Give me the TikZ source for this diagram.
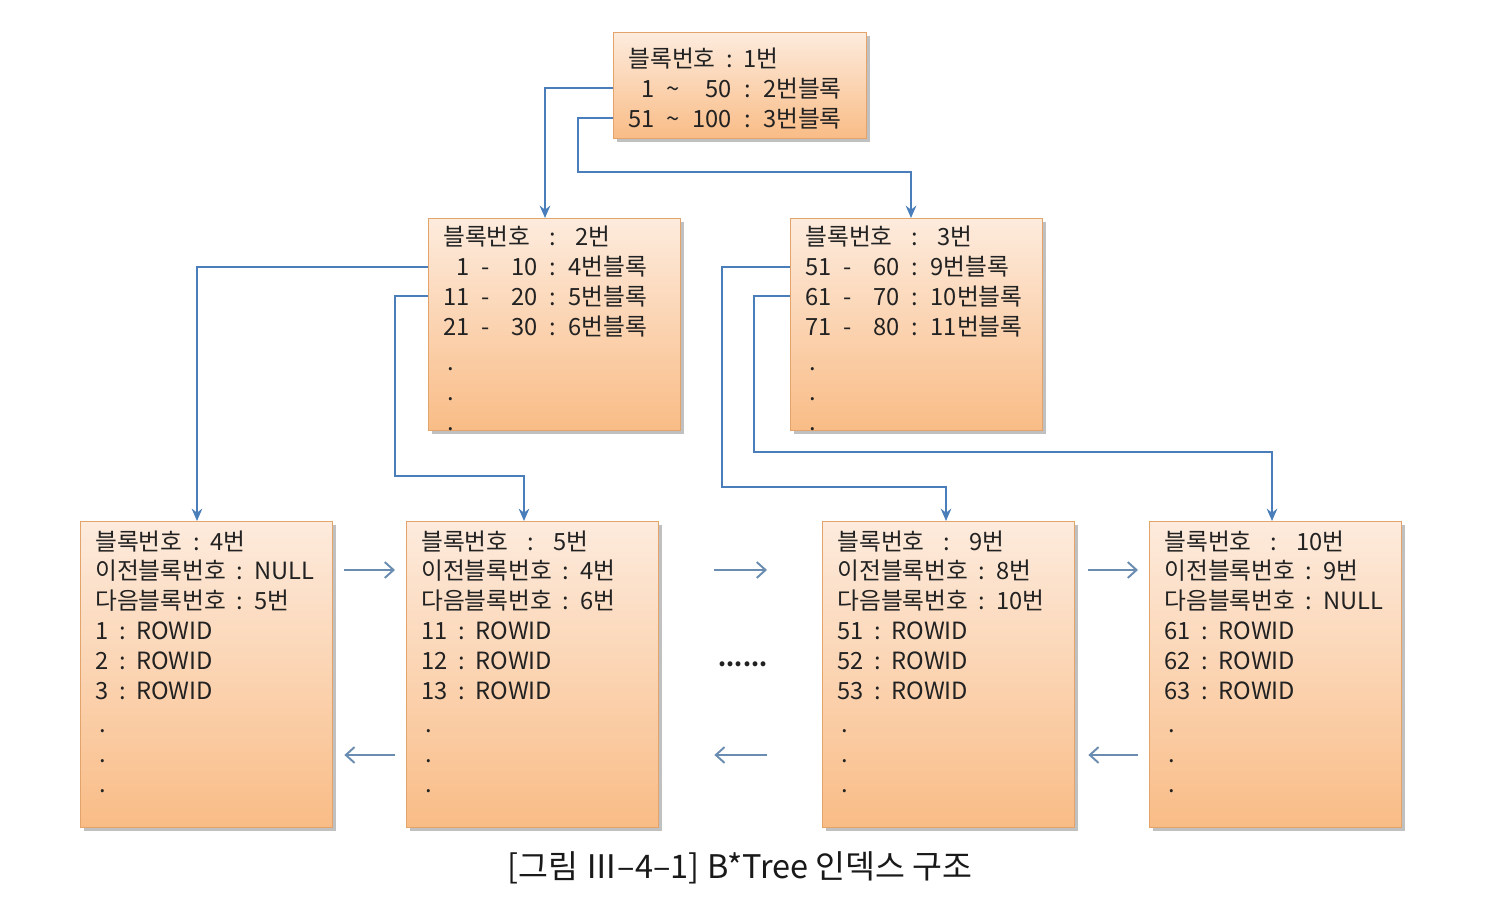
\documentclass[tikz,border=0pt]{standalone}
\usepackage{fontspec}
\setmainfont{Noto Sans CJK KR}
\usetikzlibrary{arrows.meta,shadows,calc}
\definecolor{lineblue}{HTML}{4A7EBB}
\definecolor{harrowc}{HTML}{6A8CB0}
\definecolor{boxtop}{HTML}{FDEBDD}
\definecolor{boxbot}{HTML}{F9BC86}
\definecolor{boxline}{HTML}{E3A46C}
\definecolor{txt}{HTML}{222222}
\tikzset{
  blockbox/.style={draw=boxline, line width=0.8pt, top color=boxtop, bottom color=boxbot,
    anchor=north west, inner sep=0pt, minimum width=5.04cm,
    drop shadow={shadow xshift=0.06cm, shadow yshift=-0.06cm, opacity=0.35, fill=black!70}},
  blocktext/.style={anchor=base west, inner sep=0pt, text=txt,
    font=\fontsize{13.5}{17}\selectfont},
  conn/.style={draw=lineblue, line width=1.1pt, -{Stealth[length=7pt,width=6pt]}},
  harrow/.style={draw=harrowc, line width=1.1pt, -{Straight Barb[length=5pt,width=9pt]}},
}
\newcommand{\cs}{\hspace{0.45em}:\hspace{0.45em}}
\newcommand{\cw}{\hspace{0.8em}:\hspace{0.8em}}
\newcommand{\rangerows}[1]{\begin{tabular}[t]{@{}r@{\hspace{7pt}}c@{\hspace{12pt}}r@{\hspace{7pt}}c@{\hspace{7pt}}l@{}}#1\end{tabular}}
\newcommand{\leafrows}[1]{\begin{tabular}[t]{@{}l@{}}#1\end{tabular}}
\begin{document}
\begin{tikzpicture}[x=0.02cm,y=-0.02cm]
\useasboundingbox[fill=white] (0,0) rectangle (1498,898);

% boxes
\node[blockbox, minimum width=5.06cm, minimum height=2.12cm] (b1) at (613,32) {};
\node[blockbox, minimum height=4.24cm] (b2) at (428,218) {};
\node[blockbox, minimum height=4.24cm] (b3) at (790,218) {};
\node[blockbox, minimum height=6.12cm] (l4) at (80,521) {};
\node[blockbox, minimum height=6.12cm] (l5) at (406,521) {};
\node[blockbox, minimum height=6.12cm] (l9) at (822,521) {};
\node[blockbox, minimum height=6.12cm] (l10) at (1149,521) {};

% texts
\node[blocktext] (t1) at (628,68) {\begin{tabular}[t]{@{}r@{\hspace{7pt}}c@{\hspace{7pt}}r@{\hspace{7pt}}c@{\hspace{7pt}}l@{}}
\multicolumn{5}{@{}l@{}}{블록번호\cs 1번}\\
1 & \textasciitilde & 50 & : & 2번블록\\
51 & \textasciitilde & 100 & : & 3번블록
\end{tabular}};

\node[blocktext] (t2) at (443,246) {\rangerows{
\multicolumn{5}{@{}l@{}}{블록번호\cw 2번}\\
1 & - & 10 & : & 4번블록\\
11 & - & 20 & : & 5번블록\\
21 & - & 30 & : & 6번블록\\[3pt]
\multicolumn{5}{@{}l@{}}{\,.}\\
\multicolumn{5}{@{}l@{}}{\,.}\\
\multicolumn{5}{@{}l@{}}{\,.}
}};

\node[blocktext] (t3) at (805,246) {\rangerows{
\multicolumn{5}{@{}l@{}}{블록번호\cw 3번}\\
51 & - & 60 & : & 9번블록\\
61 & - & 70 & : & 10번블록\\
71 & - & 80 & : & 11번블록\\[3pt]
\multicolumn{5}{@{}l@{}}{\,.}\\
\multicolumn{5}{@{}l@{}}{\,.}\\
\multicolumn{5}{@{}l@{}}{\,.}
}};

\node[blocktext] (t4) at (95,550) {\leafrows{
블록번호\cs 4번\\
이전블록번호\cs NULL\\
다음블록번호\cs 5번\\
1\cs ROWID\\
2\cs ROWID\\
3\cs ROWID\\[2pt]
\,.\\ \,.\\ \,.
}};

\node[blocktext] (t5) at (421,550) {\leafrows{
블록번호\cw 5번\\
이전블록번호\cs 4번\\
다음블록번호\cs 6번\\
11\cs ROWID\\
12\cs ROWID\\
13\cs ROWID\\[2pt]
\,.\\ \,.\\ \,.
}};

\node[blocktext] (t9) at (837,550) {\leafrows{
블록번호\cw 9번\\
이전블록번호\cs 8번\\
다음블록번호\cs 10번\\
51\cs ROWID\\
52\cs ROWID\\
53\cs ROWID\\[2pt]
\,.\\ \,.\\ \,.
}};

\node[blocktext] (t10) at (1164,550) {\leafrows{
블록번호\cw 10번\\
이전블록번호\cs 9번\\
다음블록번호\cs NULL\\
61\cs ROWID\\
62\cs ROWID\\
63\cs ROWID\\[2pt]
\,.\\ \,.\\ \,.
}};

% tree connectors
\draw[conn] (b1.west |- 0,88) -| (b2.north west -| 545,0);
\draw[conn] (b1.west |- 0,118) -| (578,172) -| (b3.north west -| 911,0);
\draw[conn] (b2.west |- 0,267) -| (l4.north west -| 197,0);
\draw[conn] (b2.west |- 0,296) -| (395,476) -| (l5.north west -| 524,0);
\draw[conn] (b3.west |- 0,267) -| (722,487) -| (l9.north west -| 946,0);
\draw[conn] (b3.west |- 0,296) -| (754,452) -| (l10.north west -| 1272,0);

% sibling links
\draw[harrow, shorten <=0.22cm, shorten >=0.22cm] (l4.east |- 0,570) -- (l5.west |- 0,570);
\draw[harrow, shorten <=0.22cm, shorten >=0.22cm] (l5.west |- 0,755) -- (l4.east |- 0,755);
\draw[harrow, shorten <=1.1cm, shorten >=1.1cm] (l5.east |- 0,570) -- (l9.west |- 0,570);
\draw[harrow, shorten <=1.1cm, shorten >=1.1cm] (l9.west |- 0,755) -- (l5.east |- 0,755);
\draw[harrow, shorten <=0.26cm, shorten >=0.22cm] (l9.east |- 0,570) -- (l10.west |- 0,570);
\draw[harrow, shorten <=0.22cm, shorten >=0.26cm] (l10.west |- 0,755) -- (l9.east |- 0,755);

\node[text=txt, font=\fontsize{13}{15}\selectfont\bfseries] (gap) at (743,664) {......};

% caption
\node[text=black!90, font=\fontsize{18.5}{22}\selectfont] (cap) at (740,868) {[그림 Ⅲ–4–1] B*Tree 인덱스 구조};
\end{tikzpicture}
\end{document}
